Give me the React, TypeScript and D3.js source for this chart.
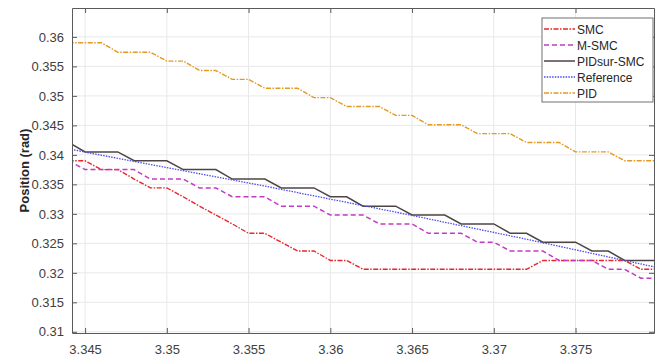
import React, { useEffect, useRef } from "react";
import * as d3 from "d3";

// sample times (s)
const time = [
  3.344, 3.345, 3.346, 3.347, 3.348, 3.349, 3.35, 3.351, 3.352, 3.353, 3.354,
  3.355, 3.356, 3.357, 3.358, 3.359, 3.36, 3.361, 3.362, 3.363, 3.364, 3.365,
  3.366, 3.367, 3.368, 3.369, 3.37, 3.371, 3.372, 3.373, 3.374, 3.375, 3.376,
  3.377, 3.378, 3.379, 3.38,
];

const smc = [
  0.339, 0.339, 0.3375, 0.3375, 0.3359, 0.3344, 0.3344, 0.3329, 0.3313, 0.3298,
  0.3283, 0.3267, 0.3267, 0.3252, 0.3237, 0.3237, 0.3221, 0.3221, 0.3206,
  0.3206, 0.3206, 0.3206, 0.3206, 0.3206, 0.3206, 0.3206, 0.3206, 0.3206,
  0.3206, 0.3221, 0.3221, 0.3221, 0.3221, 0.3221, 0.3221, 0.3206, 0.3206,
];

const mSmc = [
  0.339, 0.3375, 0.3375, 0.3375, 0.3375, 0.3359, 0.3359, 0.3359, 0.3344, 0.3344,
  0.3329, 0.3329, 0.3329, 0.3313, 0.3313, 0.3313, 0.3298, 0.3298, 0.3298,
  0.3283, 0.3283, 0.3283, 0.3267, 0.3267, 0.3267, 0.3252, 0.3252, 0.3237,
  0.3237, 0.3237, 0.3221, 0.3221, 0.3221, 0.3206, 0.3206, 0.3191, 0.3191,
];

const pidSurSmc = [
  0.3421, 0.3405, 0.3405, 0.3405, 0.339, 0.339, 0.339, 0.3375, 0.3375, 0.3375,
  0.3359, 0.3359, 0.3359, 0.3344, 0.3344, 0.3344, 0.3329, 0.3329, 0.3313,
  0.3313, 0.3313, 0.3298, 0.3298, 0.3298, 0.3283, 0.3283, 0.3283, 0.3267,
  0.3267, 0.3252, 0.3252, 0.3252, 0.3237, 0.3237, 0.3221, 0.3221, 0.3221,
];

const pid = [
  0.359, 0.359, 0.359, 0.3574, 0.3574, 0.3574, 0.3559, 0.3559, 0.3543, 0.3543,
  0.3528, 0.3528, 0.3513, 0.3513, 0.3513, 0.3497, 0.3497, 0.3482, 0.3482,
  0.3482, 0.3467, 0.3467, 0.3451, 0.3451, 0.3451, 0.3436, 0.3436, 0.3436,
  0.3421, 0.3421, 0.3421, 0.3405, 0.3405, 0.3405, 0.339, 0.339, 0.339,
];

const refTime = [3.344, 3.348, 3.352, 3.356, 3.36, 3.364, 3.368, 3.372, 3.376, 3.38];
const reference = [0.341, 0.3389, 0.3368, 0.3347, 0.3325, 0.3303, 0.328, 0.3257, 0.3233, 0.3209];

const xTicks = [3.345, 3.35, 3.355, 3.36, 3.365, 3.37, 3.375];
const yTicks = [0.31, 0.315, 0.32, 0.325, 0.33, 0.335, 0.34, 0.345, 0.35, 0.355, 0.36];

const series = [
  { name: "SMC", t: time, v: smc, color: "#e8262b", dash: "5,1.5,1.5,1.5", width: 1.4 },
  { name: "M-SMC", t: time, v: mSmc, color: "#c23bc4", dash: "5,3", width: 1.5 },
  { name: "PIDsur-SMC", t: time, v: pidSurSmc, color: "#4d4545", dash: null, width: 1.5 },
  { name: "Reference", t: refTime, v: reference, color: "#4a4cf0", dash: "1.5,1.2", width: 1.3 },
  { name: "PID", t: time, v: pid, color: "#e49a22", dash: "5,1.5,1.5,1.5", width: 1.4 },
];

const W = 662,
  H = 359;

const App = () => {
  const svgRef = useRef(null);

  useEffect(() => {
    const svg = d3.select(svgRef.current);
    svg.selectAll("*").remove();

    const left = 72,
      right = 654,
      top = 8,
      bottom = 333;

    const x = d3.scaleLinear().domain([3.3442, 3.3798]).range([left, right]);
    const y = d3.scaleLinear().domain([0.3098, 0.3649]).range([bottom, top]);

    svg.append("rect").attr("width", W).attr("height", H).attr("fill", "#fff");

    // grid
    const grid = svg.append("g").attr("stroke", "#e8e8e8").attr("stroke-width", 1);
    xTicks.forEach((t) => {
      grid.append("line").attr("x1", x(t)).attr("x2", x(t)).attr("y1", top).attr("y2", bottom);
    });
    yTicks.forEach((t) => {
      grid.append("line").attr("x1", left).attr("x2", right).attr("y1", y(t)).attr("y2", y(t));
    });

    svg
      .append("clipPath")
      .attr("id", "plotClip")
      .append("rect")
      .attr("x", left)
      .attr("y", top)
      .attr("width", right - left)
      .attr("height", bottom - top);

    const lines = svg.append("g").attr("clip-path", "url(#plotClip)");
    series.forEach((s) => {
      const line = d3
        .line<number>()
        .x((d, i) => x(s.t[i]))
        .y((d) => y(d));
      lines
        .append("path")
        .datum(s.v)
        .attr("fill", "none")
        .attr("stroke", s.color)
        .attr("stroke-width", s.width)
        .attr("stroke-dasharray", s.dash)
        .attr("d", line);
    });

    // axes (box with inward ticks)
    const fmt = (v) => String(+v.toFixed(3));
    const axisColor = "#5a5a5a";
    const xb = svg
      .append("g")
      .attr("transform", `translate(0,${bottom})`)
      .call(d3.axisBottom(x).tickValues(xTicks).tickSizeInner(-5).tickSizeOuter(0).tickPadding(12).tickFormat(fmt));
    const xt = svg
      .append("g")
      .attr("transform", `translate(0,${top})`)
      .call(d3.axisTop(x).tickValues(xTicks).tickSizeInner(-5).tickSizeOuter(0).tickFormat(() => ""));
    const yl = svg
      .append("g")
      .attr("transform", `translate(${left},0)`)
      .call(d3.axisLeft(y).tickValues(yTicks).tickSizeInner(-5).tickSizeOuter(0).tickPadding(8).tickFormat(fmt));
    const yr = svg
      .append("g")
      .attr("transform", `translate(${right},0)`)
      .call(d3.axisRight(y).tickValues(yTicks).tickSizeInner(-5).tickSizeOuter(0).tickFormat(() => ""));

    [xb, xt, yl, yr].forEach((g) => {
      g.selectAll(".domain").attr("stroke", axisColor);
      g.selectAll(".tick line").attr("stroke", axisColor);
      g.selectAll("text")
        .attr("fill", "#404040")
        .attr("font-size", 13)
        .attr("font-family", "'Liberation Sans', Arial, sans-serif");
    });

    // y label
    svg
      .append("text")
      .attr("transform", `translate(29,${(top + bottom) / 2}) rotate(-90)`)
      .attr("text-anchor", "middle")
      .attr("font-family", "'Liberation Sans', Arial, sans-serif")
      .attr("font-size", 13)
      .attr("font-weight", "bold")
      .attr("fill", "#262626")
      .text("Position (rad)");

    // legend
    const lg = svg.append("g").attr("transform", "translate(542,18)");
    lg.append("rect")
      .attr("width", 111)
      .attr("height", 84)
      .attr("fill", "#fff")
      .attr("stroke", "#707070")
      .attr("stroke-width", 1);
    series.forEach((s, i) => {
      const yy = 11 + i * 16;
      lg.append("line")
        .attr("x1", 2)
        .attr("x2", 33)
        .attr("y1", yy)
        .attr("y2", yy)
        .attr("stroke", s.color)
        .attr("stroke-width", s.width)
        .attr("stroke-dasharray", s.dash);
      lg.append("text")
        .attr("x", 35)
        .attr("y", yy + 4.5)
        .attr("font-family", "'Liberation Sans', Arial, sans-serif")
        .attr("font-size", 12)
        .attr("fill", "#262626")
        .text(s.name);
    });
  }, []);

  return (
    <svg
      ref={svgRef}
      width={W}
      height={H}
      style={{ position: "absolute", left: 0, top: 0 }}
    ></svg>
  );
};

export default App;
